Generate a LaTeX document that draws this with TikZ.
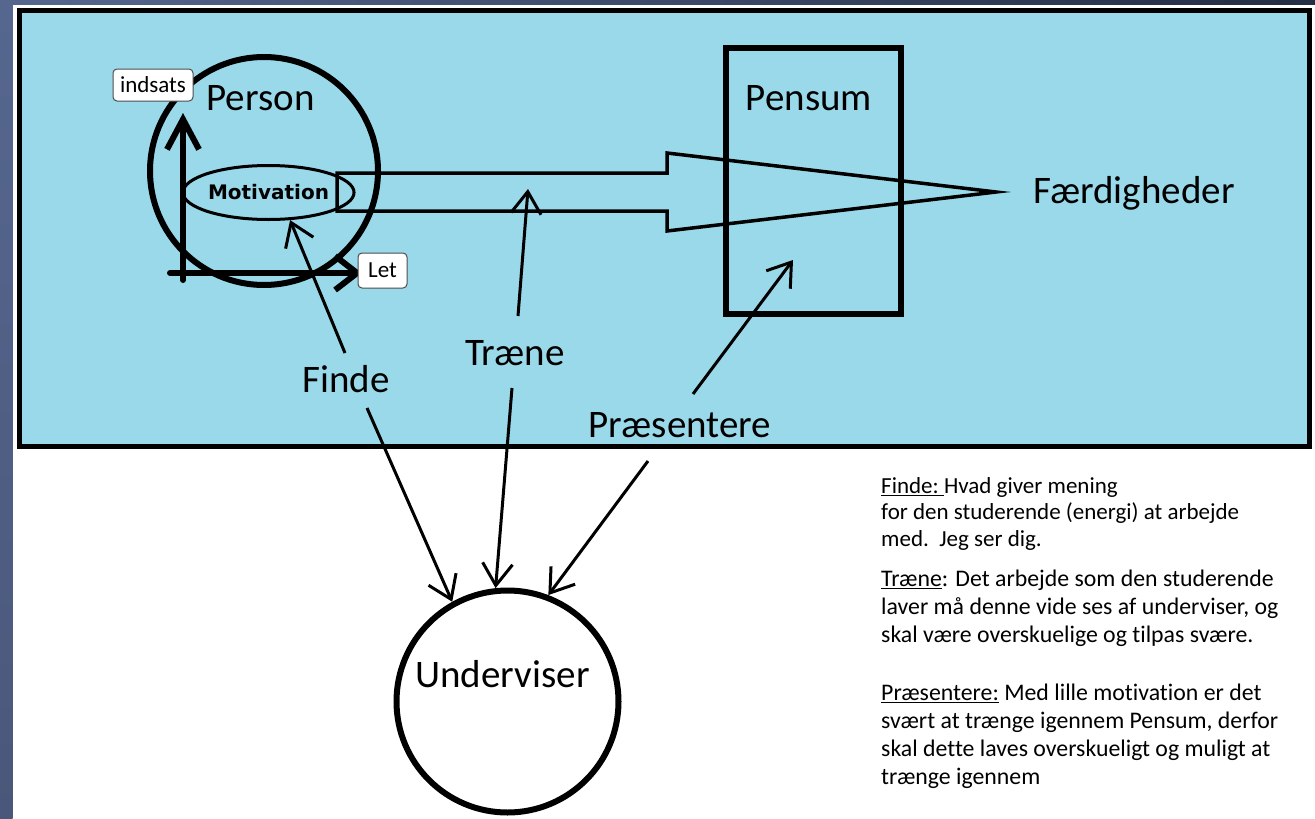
\documentclass[tikz,border=0pt]{standalone}
\usepackage{fontspec}
\setmainfont{Carlito}[Ligatures=NoCommon, RawFeature={-liga;-clig;-calt}]
\newfontfamily\motivfont{DejaVu Sans}
\usetikzlibrary{arrows.meta,shapes.geometric}

\definecolor{paintblue}{RGB}{153,217,234}
\definecolor{slate}{RGB}{86,103,143}
\definecolor{darkslate}{RGB}{36,46,68}

\tikzset{
  bigtext/.style={font=\fontsize{39}{44}\selectfont, inner sep=0pt, anchor=base},
  ring/.style={circle, draw, line width=6pt, inner sep=0pt},
  pointer/.style={line width=3pt, -{Straight Barb[length=22pt,width=30pt]}},
  axis/.style={line width=6pt, line cap=round},
  tag/.style={draw=black!70, fill=white, rounded corners=4pt, line width=1pt,
    font=\fontsize{23}{26}\selectfont, inner sep=0pt},
  note/.style={align=left, inner sep=0pt, anchor=north west}
}

\begin{document}
\begin{tikzpicture}[x=1pt,y=-1pt]
  \useasboundingbox (0,0) rectangle (1315,819);
  % Background
  \fill[white] (0,0) rectangle (1315,819);
  \shade[top color=slate, bottom color=slate!85!black] (0,0) rectangle (12.7,819);
  \shade[left color=slate, right color=darkslate] (0,0) rectangle (1315,4);
  \draw[line width=5pt, fill=paintblue] (19.5,10.5) rectangle (1309.5,446.5);

  % Person with motivation
  \node[ring, minimum size=228pt] (person) at (264,171) {};
  \node[bigtext] (personlabel) at (260.5,110) {Person};
  \node[ellipse, draw, line width=3pt, minimum width=146pt, minimum height=54pt,
    inner sep=0pt, font=\motivfont\bfseries\fontsize{20}{22}\selectfont]
    (motivation) at (268.5,192.5) {Motivation};

  % Block arrow through Pensum
  \coordinate (tailtop) at (337,173);
  \coordinate (tailbot) at (337,211);
  \coordinate (tip) at (996,192);
  \draw[line width=3.5pt, line join=miter] (tailtop) -- (667,173) -- (667,153) -- (tip)
    -- (667,231) -- (667,211) -- (tailbot) -- cycle;
  \node[draw, line width=6pt, minimum width=175pt, minimum height=266pt] (pensum) at (813.5,181) {};
  \node[bigtext] (pensumlabel) at (809,110) {Pensum};
  \node[bigtext] (faerdigheder) at (1134,203) {Færdigheder};

  % Axes
  \coordinate (origin) at (183,280);
  \coordinate (axisleft) at (170,273);
  \draw[axis, -{Straight Barb[length=30pt,width=32pt]}] (origin) -- (183,113);
  \draw[axis, -{Straight Barb[length=22pt,width=34pt]}] (axisleft) -- (362,273);
  \node[tag, minimum width=80pt, minimum height=32pt] (indsats) at (153,85) {indsats};
  \node[tag, minimum width=49pt, minimum height=35pt] (let) at (382.5,270.5) {Let};

  % Teacher
  \node[ring, minimum size=222pt] (underviser) at (507.5,701.5) {};
  \node[bigtext] (underviserlabel) at (502.5,687) {Underviser};

  % Verbs
  \node[bigtext] (finde) at (346,392) {Finde};
  \node[bigtext] (traene) at (515,365) {Træne};
  \node[bigtext] (praesentere) at (680,437) {Præsentere};

  \coordinate (shaftpoint) at (528,189);
  \coordinate (pensumpoint) at (793,260);
  \draw[pointer] ([shift={(-1,-39)}]finde.base) -- (motivation.-52);
  \draw[pointer] ([shift={(21,16)}]finde.base) -- (underviser.119);
  \draw[pointer] ([shift={(3,-49)}]traene.base) -- (shaftpoint);
  \draw[pointer] ([shift={(-3,23)}]traene.base) -- (underviser.96);
  \draw[pointer] ([shift={(13,-43)}]praesentere.base) -- (pensumpoint);
  \draw[pointer] ([shift={(-32,24)}]praesentere.base) -- (underviser.69);

  % Notes
  \node[note, font=\fontsize{23}{26.5}\selectfont] (findenote) at (881,477)
    {\underline{Finde:\ }Hvad giver mening\\
     for den studerende (energi) at arbejde\\
     med.\ \ Jeg ser dig.};
  \node[note, font=\fontsize{23.8}{28}\selectfont] (traenenote) at (881,570)
    {\underline{Træne}: Det arbejde som den studerende\\
     laver må denne vide ses af underviser, og\\
     skal være overskuelige og tilpas svære.};
  \node[note, font=\fontsize{23.8}{28}\selectfont] (praesenterenote) at (881,684)
    {\underline{Præsentere:} Med lille motivation er det\\
     svært at trænge igennem Pensum, derfor\\
     skal dette laves overskueligt og muligt at\\
     trænge igennem};
\end{tikzpicture}
\end{document}
